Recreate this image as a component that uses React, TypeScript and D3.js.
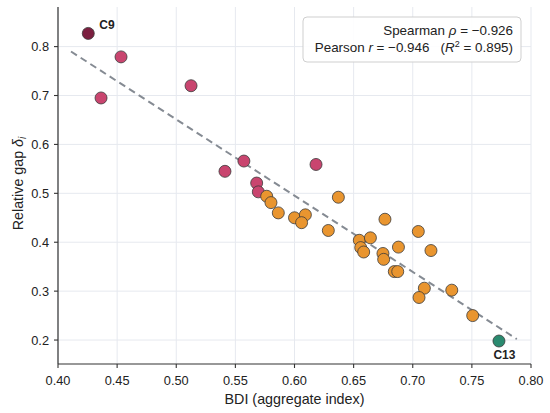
import React from "react";
import * as d3 from "d3";

const bdi = [
  0.4256, 0.4533, 0.4364, 0.5125, 0.5572, 0.5412, 0.568, 0.5694, 0.6182,
  0.5765, 0.5801, 0.5863, 0.6, 0.6092, 0.606, 0.6371, 0.6286, 0.6548, 0.6642,
  0.656, 0.6585, 0.6765, 0.6748, 0.6754, 0.6879, 0.7047, 0.7154, 0.6844,
  0.6873, 0.7098, 0.7053, 0.733, 0.7507, 0.7729,
];
const gap = [
  0.827, 0.779, 0.695, 0.72, 0.566, 0.545, 0.521, 0.503, 0.559, 0.494, 0.481,
  0.46, 0.45, 0.456, 0.44, 0.492, 0.424, 0.404, 0.409, 0.389, 0.38, 0.447,
  0.377, 0.365, 0.39, 0.422, 0.383, 0.34, 0.34, 0.306, 0.287, 0.302, 0.25,
  0.198,
];
const group = [
  "C9", "high", "high", "high", "high", "high", "high", "high", "high",
  "mid", "mid", "mid", "mid", "mid", "mid", "mid", "mid", "mid", "mid", "mid",
  "mid", "mid", "mid", "mid", "mid", "mid", "mid", "mid", "mid", "mid", "mid",
  "mid", "mid", "C13",
];
const groupColors: Record<string, string> = {
  C9: "#7b1f40",
  high: "#c9456f",
  mid: "#e9952f",
  C13: "#2a8a6f",
};
const fitX = [0.411, 0.788];
const fitY = [0.79, 0.202];
const xTicks = [0.4, 0.45, 0.5, 0.55, 0.6, 0.65, 0.7, 0.75, 0.8];
const yTicks = [0.2, 0.3, 0.4, 0.5, 0.6, 0.7, 0.8];
const labelled = [
  { name: "C9", dx: 11, dy: -4.5, anchor: "start" },
  { name: "C13", dx: 5.5, dy: 18, anchor: "middle" },
];

const W = 550;
const H = 413;
const FONT = "'Liberation Sans', Arial, sans-serif";

export default function App() {
  const x = d3.scaleLinear().domain([0.4, 0.8]).range([58, 531]);
  const y = d3.scaleLinear().domain([0.151, 0.881]).range([364, 7]);
  const line = d3
    .line<number>()
    .x((_, i) => x(fitX[i]))
    .y((d) => y(d));
  const x0 = x.range()[0];
  const x1 = x.range()[1];
  const yb = y.range()[0];
  const yt = y.range()[1];

  return (
    <svg
      width={W}
      height={H}
      style={{ position: "absolute", left: 0, top: 0, background: "#fff" }}
      fontFamily={FONT}
    >
      {/* grid */}
      {xTicks.map((t) => (
        <line key={"gx" + t} x1={x(t)} x2={x(t)} y1={yb} y2={yt} stroke="#e6e9ef" strokeWidth={1} />
      ))}
      {yTicks.map((t) => (
        <line key={"gy" + t} x1={x0} x2={x1} y1={y(t)} y2={y(t)} stroke="#e6e9ef" strokeWidth={1} />
      ))}
      {/* fit line */}
      <path
        d={line(fitY) || ""}
        fill="none"
        stroke="#858b93"
        strokeWidth={2}
        strokeDasharray="7,4.5"
      />
      {/* points */}
      {bdi.map((v, i) => (
        <circle
          key={"p" + i}
          cx={x(v)}
          cy={y(gap[i])}
          r={6}
          fill={groupColors[group[i]]}
          stroke="#3a3a3a"
          strokeWidth={0.8}
        />
      ))}
      {/* point labels */}
      {labelled.map((l) => {
        const i = group.indexOf(l.name);
        return (
          <text
            key={l.name}
            x={x(bdi[i]) + l.dx}
            y={y(gap[i]) + l.dy}
            textAnchor={l.anchor as any}
            fontSize={12}
            fontWeight="bold"
            fill="#222"
          >
            {l.name}
          </text>
        );
      })}
      {/* axes */}
      <line x1={x0} x2={x1} y1={yb} y2={yb} stroke="#333" strokeWidth={1.2} />
      <line x1={x0} x2={x0} y1={yb} y2={yt} stroke="#333" strokeWidth={1.2} />
      {xTicks.map((t) => (
        <g key={"xt" + t}>
          <line x1={x(t)} x2={x(t)} y1={yb} y2={yb + 4} stroke="#333" strokeWidth={1.1} />
          <text x={x(t)} y={yb + 21} textAnchor="middle" fontSize={12.8} fill="#222">
            {d3.format(".2f")(t)}
          </text>
        </g>
      ))}
      {yTicks.map((t) => (
        <g key={"yt" + t}>
          <line x1={x0 - 4} x2={x0} y1={y(t)} y2={y(t)} stroke="#333" strokeWidth={1.1} />
          <text x={x0 - 9} y={y(t) + 4.6} textAnchor="end" fontSize={12.8} fill="#222">
            {d3.format(".1f")(t)}
          </text>
        </g>
      ))}
      <text x={(x0 + x1) / 2} y={403.5} textAnchor="middle" fontSize={14.3} fill="#222">
        BDI (aggregate index)
      </text>
      <text
        transform={`translate(23,${(yb + yt) / 2 - 2}) rotate(-90)`}
        textAnchor="middle"
        fontSize={14.3}
        fill="#222"
      >
        Relative gap <tspan fontStyle="italic">δ</tspan>
        <tspan fontStyle="italic" fontSize={10} dy={3}>i</tspan>
      </text>
      {/* stats box */}
      <rect x={303} y={17} width={218} height={45} rx={4} fill="#fff" fillOpacity={0.9} stroke="#cfcfcf" strokeWidth={1} />
      <text x={513} y={34.5} textAnchor="end" fontSize={13.4} fill="#222">
        Spearman <tspan fontStyle="italic">ρ</tspan> = −0.926
      </text>
      <text x={513} y={52} textAnchor="end" fontSize={13.4} fill="#222" style={{ whiteSpace: "pre" }}>
        Pearson <tspan fontStyle="italic">r</tspan> = −0.946{"   "}(<tspan fontStyle="italic">R</tspan>
        <tspan fontSize={9} dy={-5}>2</tspan>
        <tspan dy={5}> = 0.895)</tspan>
      </text>
    </svg>
  );
}
